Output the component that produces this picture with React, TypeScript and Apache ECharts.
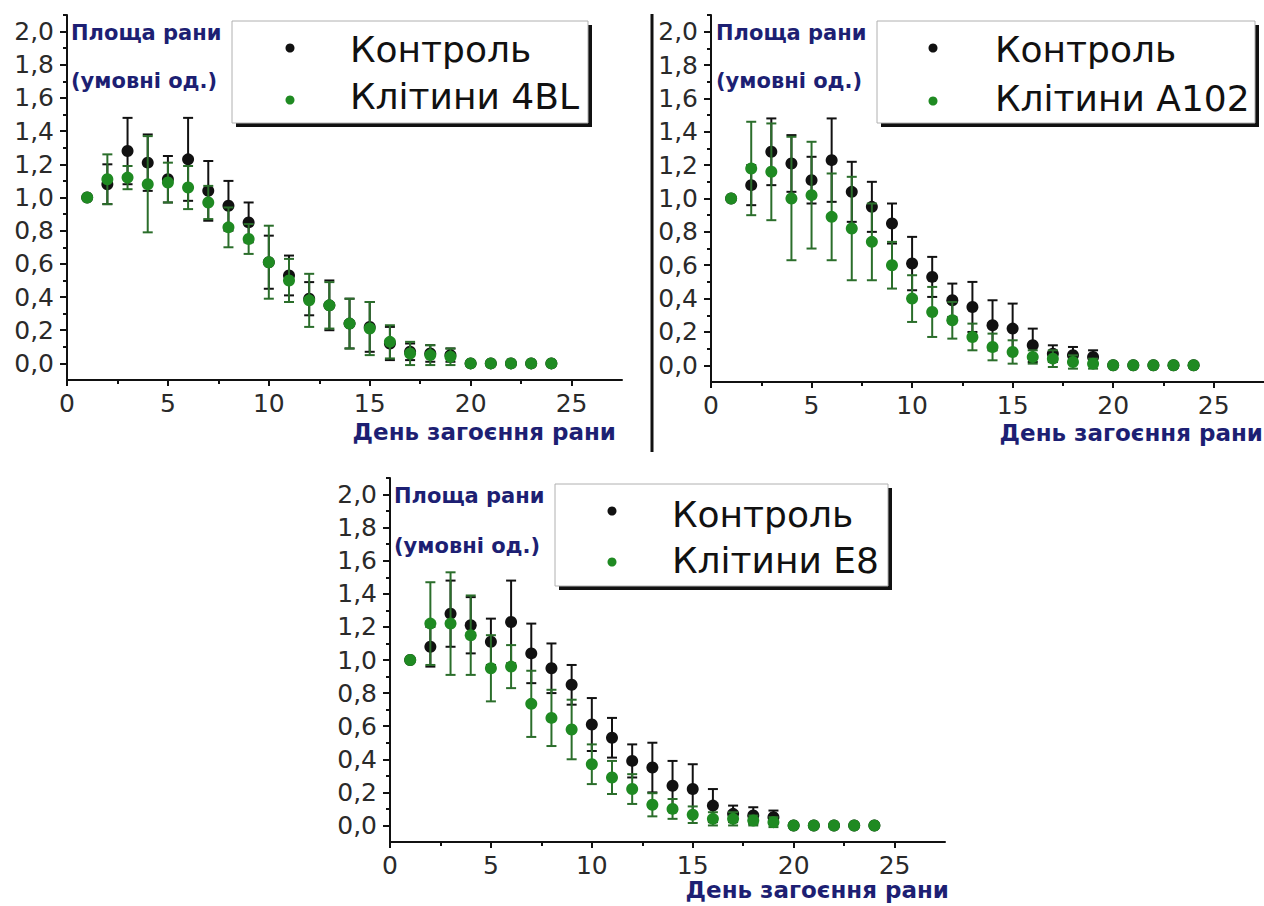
import React, { useEffect, useRef } from "react";
import * as echarts from "echarts";

// ---- data ----
const days = [1, 2, 3, 4, 5, 6, 7, 8, 9, 10, 11, 12, 13, 14, 15, 16, 17, 18, 19, 20, 21, 22, 23, 24];
const control = [1.0, 1.08, 1.28, 1.21, 1.11, 1.23, 1.04, 0.95, 0.85, 0.61, 0.53, 0.39, 0.35, 0.24, 0.22, 0.12, 0.07, 0.06, 0.05, 0, 0, 0, 0, 0];
const controlErr = [0, 0.12, 0.2, 0.17, 0.14, 0.25, 0.18, 0.15, 0.12, 0.16, 0.12, 0.1, 0.15, 0.15, 0.15, 0.1, 0.05, 0.05, 0.04, 0, 0, 0, 0, 0];
const cells4BL = [1.0, 1.11, 1.12, 1.08, 1.09, 1.06, 0.97, 0.82, 0.75, 0.61, 0.5, 0.38, 0.35, 0.24, 0.21, 0.13, 0.06, 0.05, 0.04, 0, 0, 0, 0, 0];
const err4BL = [0, 0.15, 0.07, 0.29, 0.12, 0.13, 0.1, 0.12, 0.09, 0.22, 0.13, 0.16, 0.14, 0.15, 0.16, 0.1, 0.07, 0.06, 0.05, 0, 0, 0, 0, 0];
const cellsA102 = [1.0, 1.18, 1.16, 1.0, 1.02, 0.89, 0.82, 0.74, 0.6, 0.4, 0.32, 0.27, 0.17, 0.11, 0.08, 0.05, 0.04, 0.02, 0.01, 0, 0, 0, 0, 0];
const errA102 = [0, 0.28, 0.29, 0.37, 0.32, 0.26, 0.31, 0.23, 0.14, 0.14, 0.15, 0.11, 0.08, 0.08, 0.07, 0.04, 0.05, 0.04, 0.03, 0, 0, 0, 0, 0];
const cellsE8 = [1.0, 1.22, 1.22, 1.15, 0.95, 0.96, 0.735, 0.65, 0.58, 0.37, 0.29, 0.22, 0.125, 0.1, 0.065, 0.04, 0.04, 0.03, 0.02, 0, 0, 0, 0, 0];
const errE8 = [0, 0.25, 0.31, 0.24, 0.2, 0.13, 0.2, 0.17, 0.18, 0.12, 0.1, 0.09, 0.07, 0.06, 0.05, 0.04, 0.04, 0.03, 0.03, 0, 0, 0, 0, 0];

const xTicks = [0, 5, 10, 15, 20, 25];
const xMinor = [2.5, 7.5, 12.5, 17.5, 22.5];
const yTicks = [0, 0.2, 0.4, 0.6, 0.8, 1.0, 1.2, 1.4, 1.6, 1.8, 2.0];
const yMinor = [0.1, 0.3, 0.5, 0.7, 0.9, 1.1, 1.3, 1.5, 1.7, 1.9, 2.1];

const controlName = "Контроль";
const yTitle1 = "Площа рани";
const yTitle2 = "(умовні од.)";
const xTitle = "День загоєння рани";

// ---- layout ----
const panels = [
  { name: "Клітини 4BL", values: cells4BL, errs: err4BL,
    grid: { left: 67, top: 15, width: 555, height: 365 },
    title: { x: 71, y1: 33, y2: 81 }, xName: { x: 616, y: 432 },
    box: { x: 232, y: 21, w: 356, h: 102 }, dotX: 290, dotY: [48, 100], textX: 350, textY: [49, 96] },
  { name: "Клітини A102", values: cellsA102, errs: errA102,
    grid: { left: 711, top: 15, width: 557, height: 367 },
    title: { x: 716, y1: 33, y2: 81 }, xName: { x: 1263, y: 433 },
    box: { x: 877, y: 21, w: 378, h: 102 }, dotX: 933, dotY: [48, 101], textX: 995, textY: [49, 98] },
  { name: "Клітини E8", values: cellsE8, errs: errE8,
    grid: { left: 390, top: 478, width: 555, height: 364 },
    title: { x: 394, y1: 496, y2: 546 }, xName: { x: 949, y: 890 },
    box: { x: 555, y: 484, w: 333, h: 102 }, dotX: 612, dotY: [511, 562], textX: 672, textY: [514, 560] },
];

const BLACK = "#111111";
const GREEN = "#1f8a22";
const GREEN_BAR = "#2b6e2b";
const NAVY = "#1d1f73";
const fmt = (v: number) => v.toFixed(1).replace(".", ",");

function errRender(color: string) {
  return (params: any, api: any) => {
    const x = api.value(0);
    const lo = api.value(1);
    const hi = api.value(2);
    if (!(hi - lo > 0)) return { type: "group", children: [] };
    const a = api.coord([x, lo]);
    const b = api.coord([x, hi]);
    const hw = 5;
    const st = { stroke: color, lineWidth: 2 };
    return {
      type: "group",
      children: [
        { type: "line", shape: { x1: a[0], y1: a[1], x2: b[0], y2: b[1] }, style: st },
        { type: "line", shape: { x1: a[0] - hw, y1: a[1], x2: a[0] + hw, y2: a[1] }, style: st },
        { type: "line", shape: { x1: b[0] - hw, y1: b[1], x2: b[0] + hw, y2: b[1] }, style: st },
      ],
    };
  };
}

export default function App() {
  const ref = useRef<HTMLDivElement>(null);
  useEffect(() => {
    if (!ref.current) return;
    const chart = echarts.init(ref.current, null, { renderer: "svg" });
    const grids: any[] = [];
    const xAxes: any[] = [];
    const yAxes: any[] = [];
    const series: any[] = [];
    const graphics: any[] = [];
    const lineStyle = { color: BLACK, width: 2 };

    panels.forEach((p, i) => {
      grids.push({ ...p.grid, containLabel: false });
      xAxes.push({
        type: "value", gridIndex: i, position: "bottom", min: 0, max: 27.5,
        axisLine: { show: true, onZero: false, lineStyle },
        axisTick: { show: true, customValues: xTicks, length: 6, lineStyle },
        axisLabel: { customValues: xTicks, formatter: (v: number) => String(v), fontSize: 25, lineHeight: 22, fontFamily: "DejaVu Sans", color: "#2a2a2a", margin: 12 },
        splitLine: { show: false },
      });
      xAxes.push({
        type: "value", gridIndex: i, position: "bottom", min: 0, max: 27.5,
        axisLine: { show: false, onZero: false },
        axisTick: { show: true, customValues: xMinor, length: 4, lineStyle },
        axisLabel: { show: false }, splitLine: { show: false },
      });
      yAxes.push({
        type: "value", gridIndex: i, position: "left", min: -0.1, max: 2.1,
        axisLine: { show: true, onZero: false, lineStyle },
        axisTick: { show: true, customValues: yTicks, length: 7, lineStyle },
        axisLabel: { customValues: yTicks, formatter: (v: number) => fmt(v), fontSize: 25, lineHeight: 24, fontFamily: "DejaVu Sans", color: "#2a2a2a", margin: 13 },
        splitLine: { show: false },
      });
      yAxes.push({
        type: "value", gridIndex: i, position: "left", min: -0.1, max: 2.1,
        axisLine: { show: false, onZero: false },
        axisTick: { show: true, customValues: yMinor, length: 4, lineStyle },
        axisLabel: { show: false }, splitLine: { show: false },
      });
      const xi = 2 * i, yi = 2 * i;
      series.push({
        type: "custom", name: controlName, xAxisIndex: xi, yAxisIndex: yi, z: 2,
        renderItem: errRender(BLACK), itemStyle: { color: BLACK },
        data: days.map((d, k) => [d, control[k] - controlErr[k], control[k] + controlErr[k]]),
      });
      series.push({
        type: "scatter", name: controlName, xAxisIndex: xi, yAxisIndex: yi, z: 3,
        symbol: "circle", symbolSize: 12, itemStyle: { color: BLACK, opacity: 1 },
        data: days.map((d, k) => [d, control[k]]),
      });
      series.push({
        type: "custom", name: p.name, xAxisIndex: xi, yAxisIndex: yi, z: 4,
        renderItem: errRender(GREEN_BAR), itemStyle: { color: GREEN },
        data: days.map((d, k) => [d, p.values[k] - p.errs[k], p.values[k] + p.errs[k]]),
      });
      series.push({
        type: "scatter", name: p.name, xAxisIndex: xi, yAxisIndex: yi, z: 5,
        symbol: "circle", symbolSize: 12, itemStyle: { color: GREEN, opacity: 1 },
        data: days.map((d, k) => [d, p.values[k]]),
      });

      const titleFont = { fontFamily: "DejaVu Sans", fontWeight: "bold", fontSize: 21, fill: NAVY };
      graphics.push({ type: "text", x: p.title.x, y: p.title.y1, style: { ...titleFont, text: yTitle1, verticalAlign: "middle", align: "left" }, z: 10 });
      graphics.push({ type: "text", x: p.title.x, y: p.title.y2, style: { ...titleFont, text: yTitle2, verticalAlign: "middle", align: "left" }, z: 10 });
      graphics.push({ type: "text", x: p.xName.x, y: p.xName.y, style: { ...titleFont, fontSize: 23, lineHeight: 20, text: xTitle, verticalAlign: "middle", align: "right" }, z: 10 });

      const b = p.box;
      graphics.push({ type: "rect", shape: { x: b.x + 4, y: b.y + 4, width: b.w, height: b.h }, style: { fill: BLACK }, z: 20 });
      graphics.push({ type: "rect", shape: { x: b.x, y: b.y, width: b.w, height: b.h }, style: { fill: "#ffffff", stroke: "#b0b0b0", lineWidth: 1 }, z: 21 });
      graphics.push({ type: "circle", shape: { cx: p.dotX, cy: p.dotY[0], r: 4.5 }, style: { fill: BLACK }, z: 22 });
      graphics.push({ type: "circle", shape: { cx: p.dotX, cy: p.dotY[1], r: 4.5 }, style: { fill: GREEN }, z: 22 });
      const legFont = { fontFamily: "DejaVu Sans", fontSize: 36, fill: BLACK, verticalAlign: "middle", align: "left" };
      graphics.push({ type: "text", x: p.textX, y: p.textY[0], style: { ...legFont, text: controlName }, z: 22 });
      graphics.push({ type: "text", x: p.textX, y: p.textY[1], style: { ...legFont, text: p.name }, z: 22 });
    });

    graphics.push({ type: "line", shape: { x1: 652, y1: 14, x2: 652, y2: 452 }, style: { stroke: BLACK, lineWidth: 3 }, z: 10 });

    chart.setOption({
      animation: false,
      backgroundColor: "#ffffff",
      grid: grids,
      xAxis: xAxes,
      yAxis: yAxes,
      series,
      graphic: graphics,
    });
    return () => chart.dispose();
  }, []);
  return <div ref={ref} style={{ position: "absolute", left: 0, top: 0, width: 1264, height: 906 }} />;
}
